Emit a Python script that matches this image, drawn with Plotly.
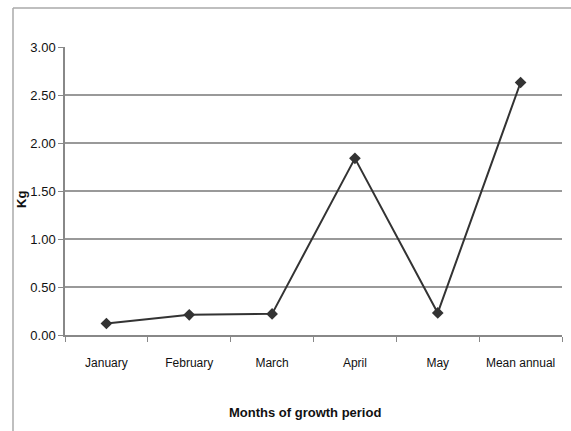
import plotly.graph_objects as go

categories = ["January", "February", "March", "April", "May", "Mean annual"]
values = [0.12, 0.21, 0.22, 1.84, 0.23, 2.63]
y_ticks = [0.0, 0.5, 1.0, 1.5, 2.0, 2.5, 3.0]
y_tick_labels = ["0.00", "0.50", "1.00", "1.50", "2.00", "2.50", "3.00"]

W, H = 571, 431
L, R, T, B = 65, 9, 47, 96
pw, ph = W - L - R, H - T - B

def px_x(x):
    return (x - L) / pw

def px_y(y):
    return (H - B - y) / ph

FONT = "Liberation Sans Narrow, Arial Narrow, Liberation Sans, Arial, sans-serif"

fig = go.Figure()
fig.add_trace(go.Scatter(
    x=categories, y=values, mode="lines+markers",
    line=dict(color="#333333", width=2),
    marker=dict(symbol="diamond", size=9, color="#333333"),
    showlegend=False,
))

fig.update_layout(
    width=W, height=H,
    margin=dict(l=L, r=R, t=T, b=B, autoexpand=False),
    paper_bgcolor="white", plot_bgcolor="white",
    font=dict(family=FONT, size=12, color="#111111"),
    xaxis=dict(
        type="category", tickson="boundaries", ticks="outside", ticklen=5,
        tickcolor="#888888", showline=True, linecolor="#888888", linewidth=1.5,
        showgrid=False, range=[-0.5, 5.5], tickfont=dict(size=12),
        tickangle=0, automargin=False, ticklabelstandoff=16,
    ),
    yaxis=dict(
        range=[0, 3], tickvals=y_ticks, ticktext=y_tick_labels,
        ticks="outside", ticklen=5, tickcolor="#888888",
        showline=True, linecolor="#888888", linewidth=1.5,
        showgrid=True, gridcolor="#999999", gridwidth=1.5,
        zeroline=False, tickfont=dict(size=13), automargin=False,
    ),
    shapes=[
        dict(type="line", xref="paper", yref="paper",
             x0=px_x(13), x1=px_x(571), y0=px_y(8), y1=px_y(8),
             line=dict(color="#aaaaaa", width=1.5)),
        dict(type="line", xref="paper", yref="paper",
             x0=px_x(13), x1=px_x(13), y0=px_y(8), y1=px_y(431),
             line=dict(color="#aaaaaa", width=1.5)),
    ],
    annotations=[
        dict(text="<b>Kg</b>", xref="paper", yref="paper",
             x=px_x(21), y=px_y(200), textangle=-90, showarrow=False,
             font=dict(size=13), xanchor="center", yanchor="middle"),
        dict(text="<b>Months of growth period</b>", xref="paper", yref="paper",
             x=px_x(305), y=px_y(412), showarrow=False,
             font=dict(size=13), xanchor="center", yanchor="middle"),
    ],
)

fig.write_html("out.html")
